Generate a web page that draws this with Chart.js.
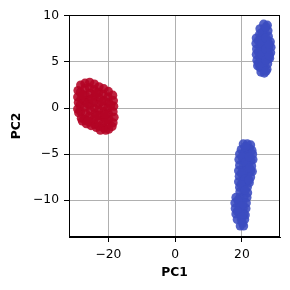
<!DOCTYPE html>
<html><head><meta charset="utf-8">
<script src="https://cdn.jsdelivr.net/npm/chart.js@4"></script>
<style>html,body{margin:0;padding:0;background:#fff;}</style>
</head><body>
<canvas id="c" width="290" height="290"></canvas>
<script>
// Cluster A (red)
const redPC1 = [-29.1,-29.2,-29.0,-29.2,-28.9,
  -28.3,-28.4,-28.2,-28.5,-28.3,-28.1,-27.8,
  -27.0,-27.1,-26.9,-27.2,-27.0,-26.8,-27.1,-26.6,
  -25.6,-25.7,-25.5,-25.8,-25.6,-25.4,-25.7,-25.5,-25.2,
  -24.2,-24.3,-24.1,-24.4,-24.2,-24.0,-24.3,-24.1,-23.6,
  -22.8,-22.9,-22.7,-23.0,-22.8,-22.6,-22.9,-22.7,-22.4,
  -21.4,-21.5,-21.3,-21.6,-21.4,-21.2,-21.5,-21.3,-20.8,
  -20.0,-20.1,-19.9,-20.2,-20.0,-19.8,-20.1,-19.9,
  -18.7,-18.5,-18.4,-18.6,-18.3,-18.6,-18.9,
  -27.7,-26.3,-24.9,-23.5,-22.1,-20.7,-19.3,-26.2,-23.6,-21.0];
const redPC2 = [1.9,1.2,0.6,-0.1,-0.5,
  2.5,1.7,1.0,0.3,-0.4,-1.1,-1.4,
  2.7,2.1,1.4,0.8,0.1,-0.6,-1.2,-1.7,
  2.8,2.2,1.6,0.9,0.3,-0.3,-0.9,-1.5,-1.9,
  2.6,2.0,1.3,0.6,0.0,-0.6,-1.2,-1.8,-2.1,
  2.3,1.7,1.1,0.4,-0.2,-0.8,-1.4,-2.0,-2.4,
  2.1,1.5,0.8,0.2,-0.4,-1.0,-1.6,-2.2,-2.4,
  1.8,1.2,0.6,0.0,-0.6,-1.2,-1.8,-2.3,
  1.4,0.8,0.2,-0.4,-1.0,-1.6,-2.0,
  1.4,0.5,1.0,-0.9,0.7,-1.3,0.3,-1.4,1.6,-0.7];
// Cluster B (blue, upper)
const blueUpPC1 = [24.3,24.2,24.4,24.3,24.5,24.7,
  25.4,25.3,25.5,25.4,25.6,25.3,25.5,25.4,25.7,
  26.5,26.7,26.6,26.8,26.5,26.7,26.6,26.8,26.5,26.7,
  27.6,27.8,27.9,27.7,28.0,27.8,27.9,27.7,27.5,
  28.5,28.7,28.6,28.3,
  24.9,24.9,24.9,26.0,26.0,26.0,26.0,27.2,27.2,27.2,27.2,27.2,28.2,28.2];
const blueUpPC2 = [7.6,7.0,6.4,5.8,5.2,4.6,
  8.6,8.0,7.4,6.8,6.2,5.6,5.0,4.4,3.9,
  9.1,8.5,7.9,7.3,6.7,6.1,5.5,4.9,4.3,3.8,
  9.0,8.4,7.8,7.2,6.6,6.0,5.4,4.8,4.2,
  7.2,6.6,6.0,5.4,
  7.3,6.1,4.9,8.2,7.0,5.8,4.6,8.8,7.6,6.4,5.2,4.0,6.9,5.7];
// Cluster B (blue, lower)
const blueLowPC1 = [20.4,21.6,22.6,
  19.8,21.0,22.2,23.0,
  19.3,20.5,21.7,23.2,
  19.1,20.3,21.5,22.7,23.3,
  19.3,20.5,21.7,22.9,
  19.0,20.2,21.4,22.6,23.1,
  19.2,20.4,21.6,22.6,
  19.0,20.2,21.4,22.2,
  19.3,20.5,21.6,
  19.4,20.6,21.7,
  18.2,19.4,20.6,21.5,
  17.9,19.1,20.3,21.3,
  18.0,19.2,20.4,21.2,
  18.2,19.4,20.6,21.0,
  18.6,19.8,20.8,
  19.5,20.5,
  21.0,20.0,21.1,22.3,19.8,21.0,19.7,21.0,18.8,20.0,18.6,20.0,20.2,22.2,22.1];
const blueLowPC2 = [-3.9,-3.9,-4.0,
  -4.5,-4.5,-4.4,-4.6,
  -5.0,-5.0,-5.1,-5.0,
  -5.6,-5.6,-5.6,-5.7,-5.6,
  -6.2,-6.2,-6.2,-6.3,
  -6.8,-6.8,-6.8,-6.8,-6.9,
  -7.4,-7.4,-7.4,-7.5,
  -8.0,-8.0,-8.0,-8.1,
  -8.6,-8.6,-8.6,
  -9.1,-9.1,-9.2,
  -9.7,-9.7,-9.7,-9.7,
  -10.3,-10.3,-10.3,-10.3,
  -10.9,-10.9,-10.9,-10.9,
  -11.5,-11.5,-11.5,-11.6,
  -12.1,-12.1,-12.1,
  -12.8,-12.8,
  -4.2,-5.3,-5.9,-6.5,-7.1,-7.7,-8.3,-8.9,-10.0,-10.6,-11.2,-11.8,-12.5,-5.3,-7.8];
const xTicks = [-20, 0, 20];
const yTicks = [-10, -5, 0, 5, 10];

const pts = (xs, ys) => xs.map((x, i) => ({x: x, y: ys[i]}));
const fmt = v => (v < 0 ? '\u2212' + Math.abs(v) : String(v));
const blue = 'rgba(59,76,192,0.88)';
const red = 'rgba(180,4,38,0.88)';

const frame = {
  id: 'frame',
  afterDraw(chart) {
    const a = chart.chartArea, c = chart.ctx;
    c.save(); c.strokeStyle = '#000'; c.lineWidth = 1;
    c.strokeRect(Math.round(a.left) + 0.5, Math.round(a.top) + 0.5,
      Math.round(a.right - a.left) - 1, Math.round(a.bottom - a.top) - 1);
    c.restore();
  }
};
const tickFont = {family: 'DejaVu Sans', size: 12.3};
const titleFont = {family: 'DejaVu Sans', size: 12.3, weight: 'bold'};

new Chart(document.getElementById('c'), {
  type: 'scatter',
  data: {datasets: [
    {data: pts(blueUpPC1, blueUpPC2).concat(pts(blueLowPC1, blueLowPC2)), backgroundColor: blue, borderWidth: 0, pointRadius: 4.6},
    {data: pts(redPC1, redPC2), backgroundColor: red, borderWidth: 0, pointRadius: 4.6}
  ]},
  options: {
    responsive: false, animation: false, devicePixelRatio: 1,
    plugins: {legend: {display: false}, tooltip: {enabled: false}},
    layout: {padding: {left: 0, right: 10, top: 15, bottom: 0}},
    scales: {
      x: {
        type: 'linear', min: -31.8, max: 31.4, z: 1,
        afterBuildTicks: s => { s.ticks = xTicks.map(v => ({value: v})); },
        afterFit: s => { s.height = 53; },
        ticks: {callback: v => fmt(v), font: tickFont, color: '#000', padding: 5, maxRotation: 0, autoSkip: false},
        grid: {color: '#b0b0b0', lineWidth: 1, tickColor: '#000', tickLength: 5},
        border: {color: '#000', width: 1},
        title: {display: true, text: 'PC1', font: titleFont, color: '#000', padding: {top: 0, bottom: 10}}
      },
      y: {
        type: 'linear', min: -14, max: 10.1, z: 1,
        afterBuildTicks: s => { s.ticks = yTicks.map(v => ({value: v})); },
        afterFit: s => { s.width = 69; },
        ticks: {callback: v => fmt(v), font: tickFont, color: '#000', padding: 5, autoSkip: false},
        grid: {color: '#b0b0b0', lineWidth: 1, tickColor: '#000', tickLength: 5},
        border: {color: '#000', width: 1},
        title: {display: true, text: 'PC2', font: titleFont, color: '#000', padding: {top: 9, bottom: 0}}
      }
    }
  },
  plugins: [frame]
});
</script>
</body></html>
